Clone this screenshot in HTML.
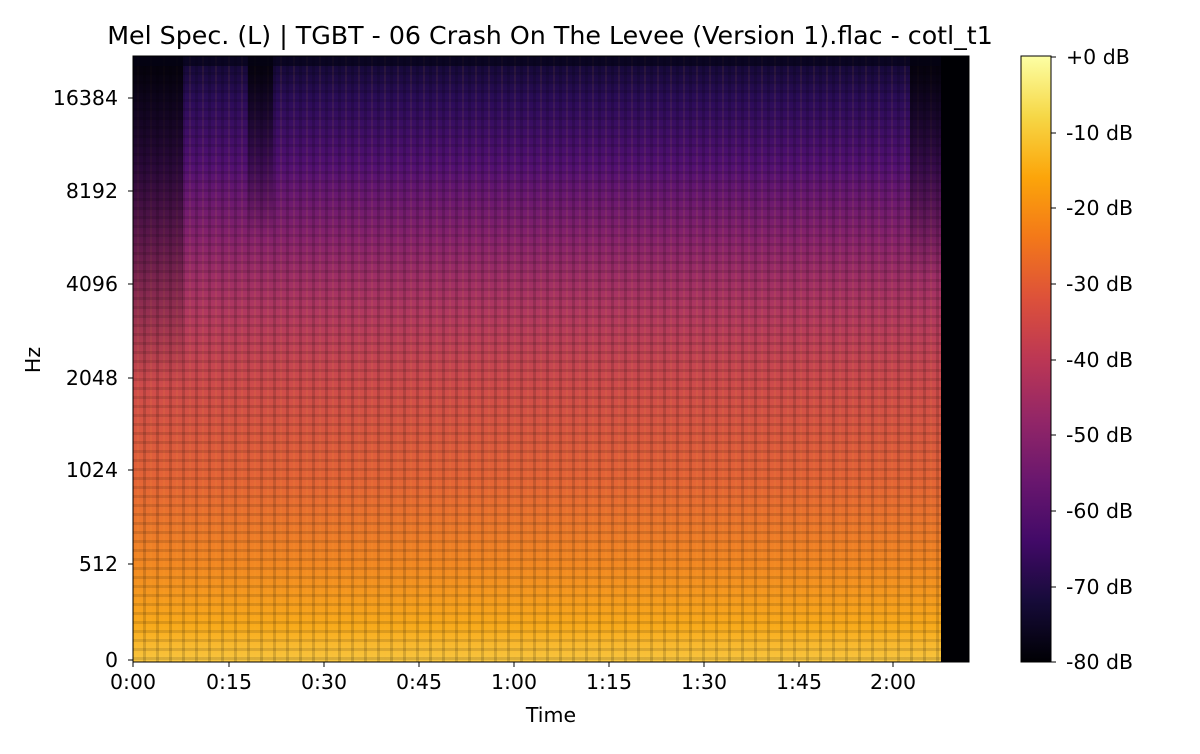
<!DOCTYPE html>
<html><head><meta charset="utf-8"><style>
html,body{margin:0;padding:0;background:#fff;}
body{width:1200px;height:750px;position:relative;overflow:hidden;font-family:"DejaVu Sans","Liberation Sans",sans-serif;}
</style></head><body>
<svg width="1200" height="750" xmlns="http://www.w3.org/2000/svg" font-family="DejaVu Sans, Liberation Sans, sans-serif">
<defs>
<linearGradient id="spec" x1="0" y1="0" x2="0" y2="1">
<stop offset="0" stop-color="#100830"/>
<stop offset="0.07" stop-color="#2a0c58"/>
<stop offset="0.18" stop-color="#521072"/>
<stop offset="0.30" stop-color="#86226c"/>
<stop offset="0.42" stop-color="#b03860"/>
<stop offset="0.55" stop-color="#cf4c4a"/>
<stop offset="0.70" stop-color="#e46436"/>
<stop offset="0.84" stop-color="#f28822"/>
<stop offset="0.94" stop-color="#f9aa1a"/>
<stop offset="1" stop-color="#f8c640"/>
</linearGradient>
<linearGradient id="cb" x1="0" y1="1" x2="0" y2="0">
<stop offset="0" stop-color="#000004"/>
<stop offset="0.1" stop-color="#160b39"/>
<stop offset="0.2" stop-color="#420a68"/>
<stop offset="0.3" stop-color="#6a176e"/>
<stop offset="0.4" stop-color="#932667"/>
<stop offset="0.5" stop-color="#bc3754"/>
<stop offset="0.6" stop-color="#dd513a"/>
<stop offset="0.7" stop-color="#f37819"/>
<stop offset="0.8" stop-color="#fca50a"/>
<stop offset="0.9" stop-color="#f6d746"/>
<stop offset="1" stop-color="#fcffa4"/>
</linearGradient>
<linearGradient id="fade" x1="0" y1="0" x2="0" y2="1">
<stop offset="0" stop-color="#000" stop-opacity="0.8"/>
<stop offset="0.5" stop-color="#000" stop-opacity="0.35"/>
<stop offset="1" stop-color="#000" stop-opacity="0"/>
</linearGradient>
<pattern id="hstr" width="8" height="9" patternUnits="userSpaceOnUse">
<rect width="8" height="3" fill="#000" opacity="0.12"/>
</pattern>
<pattern id="vstr" width="13" height="10" patternUnits="userSpaceOnUse">
<rect width="3" height="10" fill="#000" opacity="0.14"/>
<rect x="7" width="2" height="10" fill="#ffb030" opacity="0.08"/>
</pattern>
</defs>
<text x="550" y="44" font-size="25.3" text-anchor="middle" fill="#000">Mel Spec. (L) | TGBT - 06 Crash On The Levee (Version 1).flac - cotl_t1</text>
<rect x="133" y="56" width="836" height="606" fill="#000004"/>
<rect x="133" y="56" width="808" height="606" fill="url(#spec)"/>
<rect x="133" y="56" width="808" height="606" fill="url(#vstr)"/>
<rect x="133" y="56" width="808" height="606" fill="url(#hstr)"/>
<rect x="133" y="56" width="50" height="330" fill="url(#fade)"/>
<rect x="248" y="56" width="25" height="180" fill="url(#fade)"/>
<rect x="910" y="56" width="31" height="220" fill="url(#fade)"/>
<rect x="133" y="56" width="808" height="10" fill="#050318" opacity="0.6"/>
<rect x="133" y="56" width="836" height="606" fill="none" stroke="#000" stroke-width="1"/>
<g font-size="20.5" fill="#000" text-anchor="end">
<text x="118" y="105">16384</text><text x="118" y="198">8192</text><text x="118" y="291">4096</text>
<text x="118" y="385">2048</text><text x="118" y="477">1024</text><text x="118" y="571">512</text><text x="118" y="667">0</text>
</g>
<g stroke="#000"><line x1="128" x2="133" y1="98" y2="98"/><line x1="128" x2="133" y1="191" y2="191"/><line x1="128" x2="133" y1="284" y2="284"/><line x1="128" x2="133" y1="378" y2="378"/><line x1="128" x2="133" y1="470" y2="470"/><line x1="128" x2="133" y1="564" y2="564"/><line x1="128" x2="133" y1="660" y2="660"/></g>
<g font-size="20.5" fill="#000" text-anchor="middle">
<text x="133" y="689">0:00</text><text x="229" y="689">0:15</text><text x="324" y="689">0:30</text><text x="419" y="689">0:45</text><text x="514" y="689">1:00</text><text x="609" y="689">1:15</text><text x="704" y="689">1:30</text><text x="799" y="689">1:45</text><text x="893" y="689">2:00</text>
<text x="551" y="722">Time</text>
</g>
<g stroke="#000"><line y1="662" y2="667" x1="133" x2="133"/><line y1="662" y2="667" x1="229" x2="229"/><line y1="662" y2="667" x1="324" x2="324"/><line y1="662" y2="667" x1="419" x2="419"/><line y1="662" y2="667" x1="514" x2="514"/><line y1="662" y2="667" x1="609" x2="609"/><line y1="662" y2="667" x1="704" x2="704"/><line y1="662" y2="667" x1="799" x2="799"/><line y1="662" y2="667" x1="893" x2="893"/></g>
<text x="40" y="360" font-size="20.5" text-anchor="middle" transform="rotate(-90 40 360)">Hz</text>
<rect x="1021" y="56" width="30" height="606" fill="url(#cb)" stroke="#000"/>
<g font-size="20.5" fill="#000">
<text x="1066" y="64">+0 dB</text><text x="1066" y="140">-10 dB</text><text x="1066" y="215">-20 dB</text><text x="1066" y="291">-30 dB</text><text x="1066" y="367">-40 dB</text><text x="1066" y="442">-50 dB</text><text x="1066" y="518">-60 dB</text><text x="1066" y="594">-70 dB</text><text x="1066" y="669">-80 dB</text>
</g>
<g stroke="#000"><line x1="1051" x2="1056" y1="57" y2="57"/><line x1="1051" x2="1056" y1="133" y2="133"/><line x1="1051" x2="1056" y1="208" y2="208"/><line x1="1051" x2="1056" y1="284" y2="284"/><line x1="1051" x2="1056" y1="360" y2="360"/><line x1="1051" x2="1056" y1="435" y2="435"/><line x1="1051" x2="1056" y1="511" y2="511"/><line x1="1051" x2="1056" y1="587" y2="587"/><line x1="1051" x2="1056" y1="662" y2="662"/></g>
</svg>
</body></html>
